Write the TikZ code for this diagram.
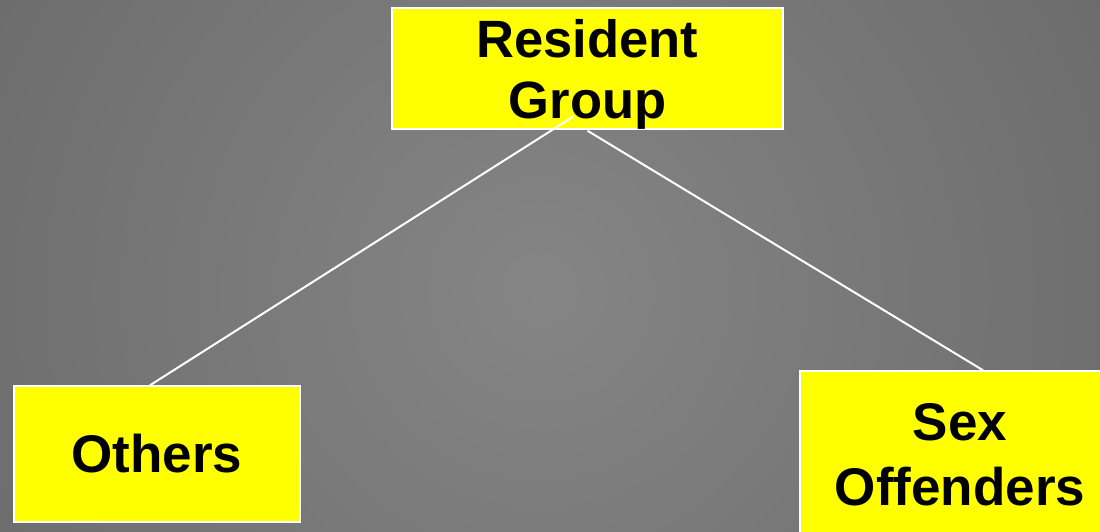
\documentclass[tikz,border=0pt]{standalone}
\usepackage{fontspec}
\setmainfont{Liberation Sans}
\definecolor{bgin}{HTML}{858585}
\definecolor{bgout}{HTML}{525252}
\definecolor{boxyellow}{HTML}{FFFF00}
\pgfdeclareradialshading{bgshade}{\pgfpoint{0bp}{0bp}}{color(0bp)=(bgin); color(50bp)=(bgout)}
\begin{document}
\begin{tikzpicture}[x=1pt,y=-1pt,
  box/.style={draw=white, line width=1.5pt, fill=boxyellow, inner sep=0pt, align=center},
  lbl/.style={font=\bfseries\fontsize{52.5}{61}\selectfont, align=center, inner sep=0pt},
  conn/.style={draw=white, line width=2pt}]
\useasboundingbox (0,0) rectangle (1100,532);
\begin{scope}
\clip (0,0) rectangle (1100,532);
\shade[shading=bgshade] (-110,-360) rectangle (1190,940);
\end{scope}
\node[box, minimum width=391pt, minimum height=121pt] (rg) at (587.5,68.5) {};
\node[box, minimum width=286pt, minimum height=136pt, font=\bfseries\fontsize{53}{61}\selectfont] (oth) at (157,454) {Others};
\node[box, minimum width=320pt, minimum height=168pt, font=\bfseries\fontsize{53}{65}\selectfont] (sex) at (960,455) {Sex\\Offenders};
\draw[conn] ([xshift=-14.5pt,yshift=13pt]rg.south) -- ([xshift=-7pt]oth.north);
\draw[conn] ([yshift=-1pt]rg.south) -- ([xshift=23pt]sex.north);
\node[lbl] (rgtext) at ([yshift=-5.5pt]rg.center) {Resident\\Group};
\end{tikzpicture}
\end{document}
